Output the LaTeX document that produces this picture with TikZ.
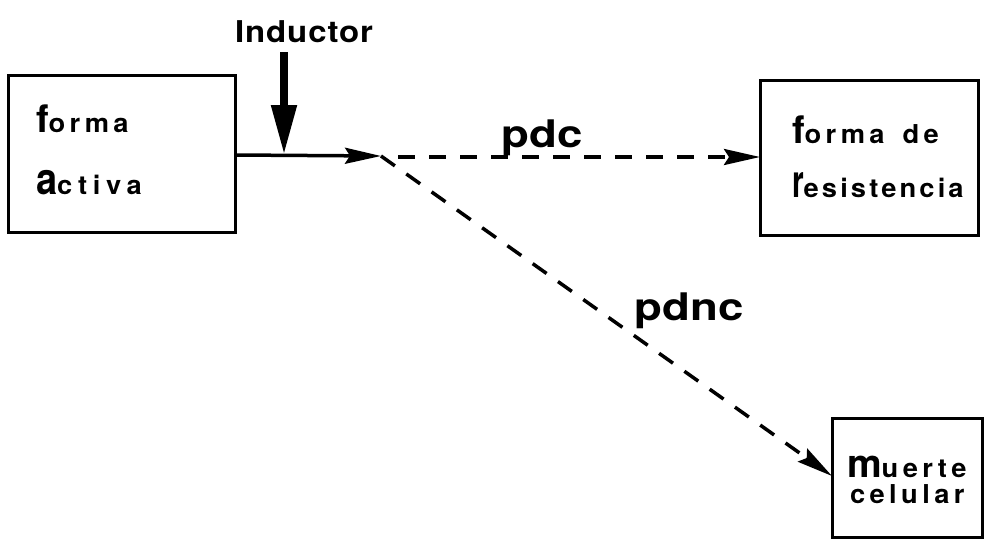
\documentclass[tikz,border=0pt]{standalone}
\usepackage{fontspec}
\usepackage{graphicx}
\setmainfont{TeX Gyre Heros}
\usetikzlibrary{arrows.meta}
\newcommand\boxfont{\fontsize{26}{26}\selectfont\bfseries\addfontfeature{FakeStretch=1.05,LetterSpace=17}}
\newcommand\initf{{\fontsize{38}{38}\selectfont\addfontfeature{FakeStretch=1.0}f}}
\newcommand\inita{{\fontsize{40}{40}\selectfont\addfontfeature{FakeStretch=1.0}\scalebox{0.95}[1.1]{a}}}
\newcommand\initr{\scalebox{1.1}[1.75]{r}}
\newcommand\initm{{\fontsize{39}{39}\selectfont\addfontfeature{FakeStretch=1.0}m}}
\begin{document}
\begin{tikzpicture}[x=1pt,y=-1pt,
  boxstyle/.style={draw,line width=3pt,inner sep=0pt,outer sep=0pt},
  txt/.style={anchor=base west,inner sep=0pt,outer sep=0pt,font=\boxfont},
  lbl/.style={anchor=base,inner sep=0pt,outer sep=0pt,font=\fontsize{38}{38}\selectfont\bfseries\addfontfeature{FakeStretch=1.2}},
  conn/.style={line width=3.5pt},
  dsh/.style={line width=3.5pt,dash pattern=on 17pt off 14pt},
  tip/.style={-{Stealth[length=36pt,width=16pt,inset=5pt]}}
]
\useasboundingbox (0,0) rectangle (987,541);
\fill[white] (0,0) rectangle (987,541);
% boxes
\node[boxstyle,minimum width=227pt,minimum height=157pt] (act) at (121.5,153.5) {};
\node[boxstyle,minimum width=218pt,minimum height=155pt] (res) at (869,157.5) {};
\node[boxstyle,minimum width=150pt,minimum height=119pt] (mue) at (907,477.5) {};
% box texts
\node[txt] (t1) at (36,132) {\initf orma};
\node[txt] (t2) at (36,194) {\inita\addfontfeature{LetterSpace=22}ctiva};
\node[txt] (t3) at (792,143) {\initf orma\hspace{18pt}de};
\node[txt] (t4) at (792,197) {\initr\addfontfeature{LetterSpace=12}esistencia};
\node[txt] (t5) at (847,477) {\initm uerte};
\node[txt] (t6) at (850,503) {celular};
% inductor
\node[anchor=base,inner sep=0pt,font=\fontsize{30}{30}\selectfont\bfseries\addfontfeature{FakeStretch=1.1,LetterSpace=3}] (ind) at (304,42) {Inductor};
\coordinate (join) at (284,155);
\coordinate (split) at (381,156);
\draw[line width=8pt,-{Triangle[length=50pt,width=24pt]}] (284,52) -- (join);
% connectors
\draw[conn,tip] (act.east |- join) -- (split);
\draw[dsh,tip] (398,157) -- (res.west |- 0,157);
\draw[dsh,tip] (split) -- (mue.west |- 0,476);
% labels
\node[lbl] (pdc) at (542,147) {pdc};
\node[lbl] (pdnc) at (689,320) {pdnc};
\end{tikzpicture}
\end{document}
